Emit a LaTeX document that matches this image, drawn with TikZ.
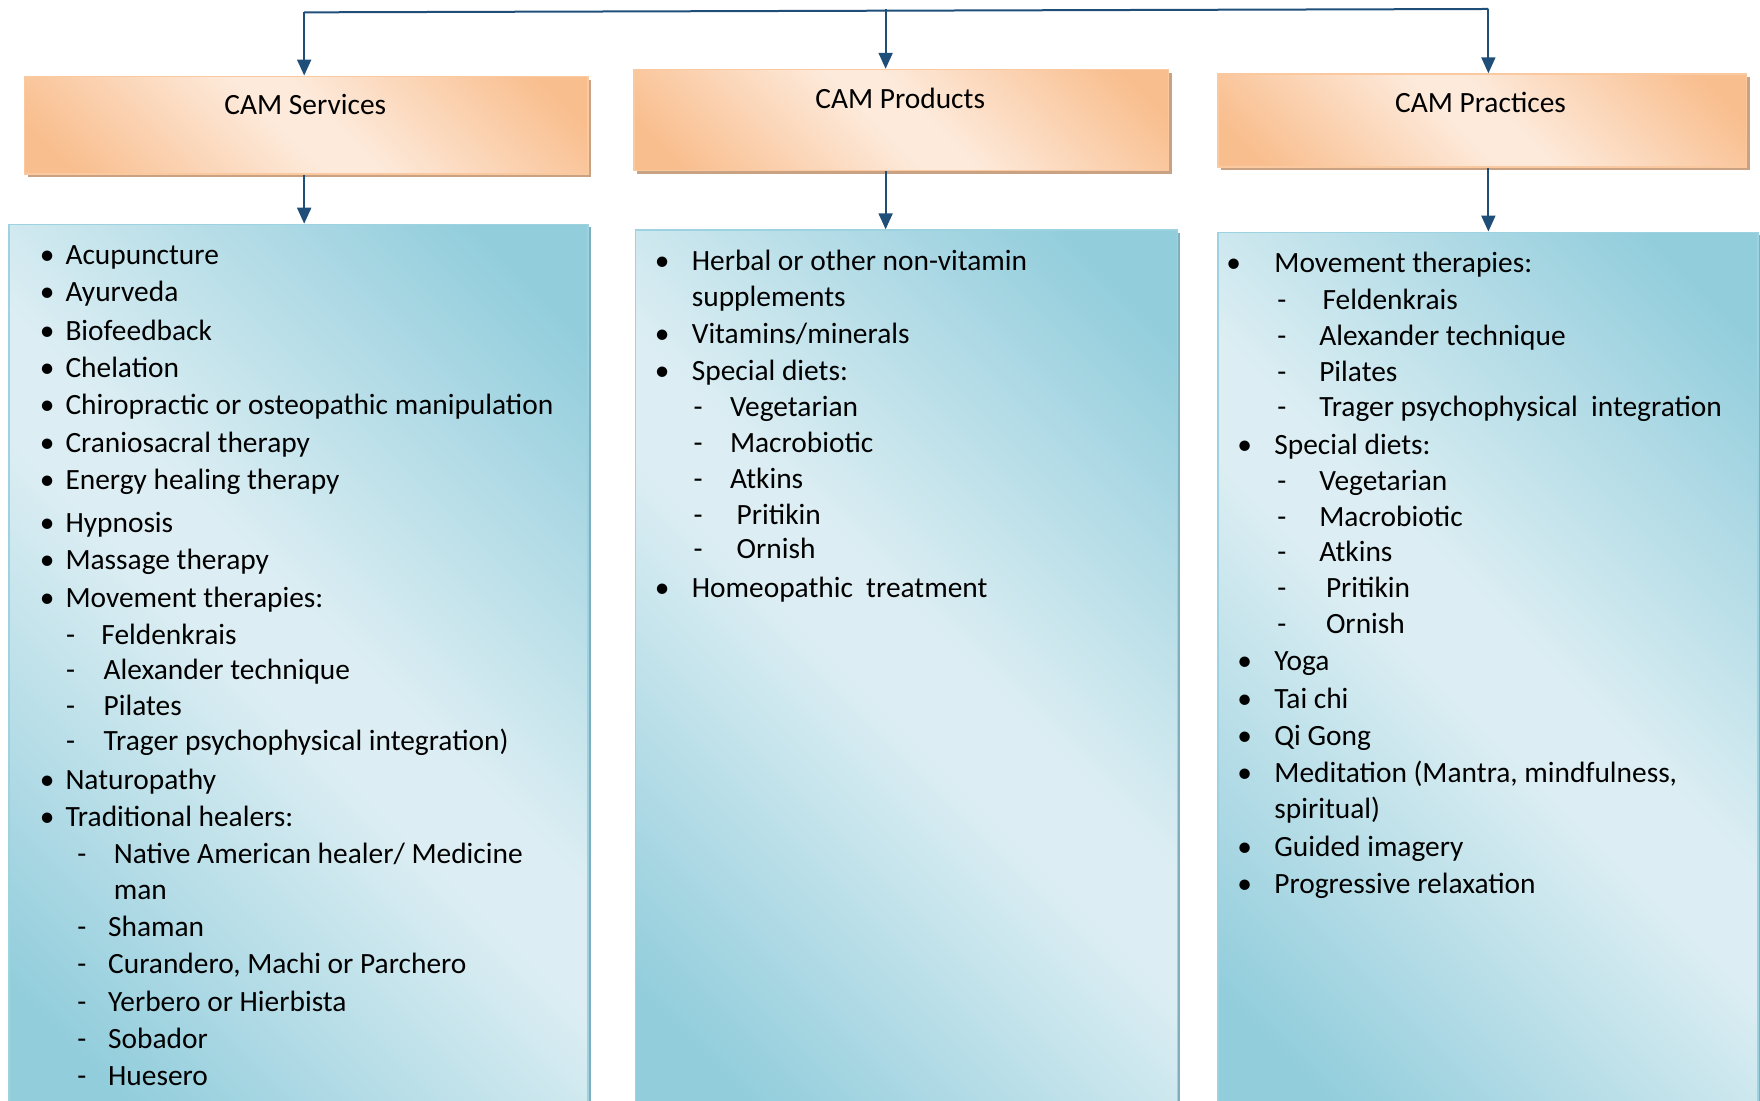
\documentclass[tikz,border=0pt]{standalone}
\usepackage{fontspec}
\setmainfont{Carlito}
\usetikzlibrary{arrows.meta,fit,shadows}
\definecolor{odk}{HTML}{F9BE8E}
\definecolor{olt}{HTML}{FDEADB}
\definecolor{obd}{HTML}{FAC9A0}
\definecolor{osh}{HTML}{C8A282}
\definecolor{bdk}{HTML}{92CDDC}
\definecolor{blt}{HTML}{DCEEF3}
\definecolor{bbd}{HTML}{9DD2E0}
\definecolor{bsh}{HTML}{7FAFBE}
\definecolor{arrc}{HTML}{1F4E79}
\pgfdeclarehorizontalshading{oband}{100bp}{color(0bp)=(odk); color(20bp)=(odk); color(47bp)=(olt); color(53bp)=(olt); color(80bp)=(odk); color(100bp)=(odk)}
\pgfdeclarehorizontalshading{bband}{100bp}{color(0bp)=(bdk); color(20bp)=(bdk); color(47bp)=(blt); color(53bp)=(blt); color(80bp)=(bdk); color(100bp)=(bdk)}
\newcommand\mkb[3]{\node[mk] (#1) at (#2,#3) {\textbullet};}
\newcommand\mkd[3]{\node[mk] (#1) at (#2,#3) {-};}
\newcommand\itx[4]{\node[tx] (#1) at (#2,#3) {#4};}
\begin{document}
\begin{tikzpicture}[x=0.56122pt,y=-0.56122pt,
  hbox/.style={draw=obd, line width=0.8pt, shading=oband, shading angle=45, inner sep=0pt,
     drop shadow={shadow xshift=1.6pt, shadow yshift=-1.6pt, fill=osh, opacity=1}},
  lbox/.style={draw=bbd, line width=0.8pt, shading=bband, shading angle=45, inner sep=0pt,
     drop shadow={shadow xshift=1.2pt, shadow yshift=-1.2pt, fill=bsh, opacity=1}},
  ln/.style={draw=arrc, line width=1pt},
  arr/.style={ln, -{Triangle[width=7pt,length=8pt]}},
  fnt/.style={font=\fontsize{14.7pt}{17pt}\selectfont, text=black},
  mk/.style={fnt, anchor=base, inner sep=0pt},
  tx/.style={fnt, anchor=base west, inner sep=0pt},
  ht/.style={fnt, anchor=base, inner sep=0pt}]
\useasboundingbox (0,0) rectangle (1568,980);

% header boxes
\node[hbox, fit={(22,68) (524,155)}] (h1) {};
\node[hbox, fit={(565,62) (1041,152)}] (h2) {};
\node[hbox, fit={(1085,66) (1556,149)}] (h3) {};
\node[ht] (h1t) at (272,102) {CAM Services};
\node[ht] (h2t) at (802,97) {CAM Products};
\node[ht] (h3t) at (1319,100) {CAM Practices};

% list boxes
\node[lbox, fit={(8,200) (524,982)}] (b1) {};
\node[lbox, fit={(566,205) (1049,982)}] (b2) {};
\node[lbox, fit={(1085,207) (1566,982)}] (b3) {};

% connectors
\coordinate (tl) at (271,11);
\coordinate (tr) at (1326,8);
\coordinate (tm) at (789,8);
\draw[ln] (tl) -- (tr);
\draw[arr] (tl) -- (tl |- h1.north);
\draw[arr] (tm) -- (tm |- h2.north);
\draw[arr] (tr) -- (tr |- h3.north);
\draw[arr] (h1.south -| tl) -- (b1.north -| tl);
\draw[arr] (h2.south -| tm) -- (b2.north -| tm);
\draw[arr] (h3.south -| tr) -- (b3.north -| tr);

% list 1
\mkb{a1m}{42}{236}\itx{a1}{58}{236}{Acupuncture}
\mkb{a2m}{42}{269}\itx{a2}{58}{269}{Ayurveda}
\mkb{a3m}{42}{303}\itx{a3}{58}{303}{Biofeedback}
\mkb{a4m}{42}{336}\itx{a4}{58}{336}{Chelation}
\mkb{a5m}{42}{369}\itx{a5}{58}{369}{Chiropractic or osteopathic manipulation}
\mkb{a6m}{42}{403}\itx{a6}{58}{403}{Craniosacral therapy}
\mkb{a7m}{42}{436}\itx{a7}{58}{436}{Energy healing therapy}
\mkb{a8m}{42}{474}\itx{a8}{58}{474}{Hypnosis}
\mkb{a9m}{42}{507}\itx{a9}{58}{507}{Massage therapy}
\mkb{a10m}{42}{541}\itx{a10}{58}{541}{Movement therapies:}
\mkd{a11m}{63}{574}\itx{a11}{90}{574}{Feldenkrais}
\mkd{a12m}{63}{605}\itx{a12}{92}{605}{Alexander technique}
\mkd{a13m}{63}{637}\itx{a13}{92}{637}{Pilates}
\mkd{a14m}{63}{669}\itx{a14}{92}{669}{Trager psychophysical integration)}
\mkb{a15m}{42}{703}\itx{a15}{58}{703}{Naturopathy}
\mkb{a16m}{42}{736}\itx{a16}{58}{736}{Traditional healers:}
\mkd{a17m}{73}{769}\itx{a17}{101}{769}{Native American healer/ Medicine}
\itx{a18}{101}{801}{man}
\mkd{a19m}{73}{834}\itx{a19}{96}{834}{Shaman}
\mkd{a20m}{73}{867}\itx{a20}{96}{867}{Curandero, Machi or Parchero}
\mkd{a21m}{73}{901}\itx{a21}{96}{901}{Yerbero or Hierbista}
\mkd{a22m}{73}{934}\itx{a22}{96}{934}{Sobador}
\mkd{a23m}{73}{967}\itx{a23}{96}{967}{Huesero}

% list 2
\mkb{p1m}{590}{241}\itx{p1}{616}{241}{Herbal or other non-vitamin}
\itx{p2}{616}{273}{supplements}
\mkb{p3m}{590}{306}\itx{p3}{616}{306}{Vitamins/minerals}
\mkb{p4m}{590}{339}\itx{p4}{616}{339}{Special diets:}
\mkd{p5m}{622}{371}\itx{p5}{650}{371}{Vegetarian}
\mkd{p6m}{622}{403}\itx{p6}{650}{403}{Macrobiotic}
\mkd{p7m}{622}{435}\itx{p7}{650}{435}{Atkins}
\mkd{p8m}{622}{467}\itx{p8}{656}{467}{Pritikin}
\mkd{p9m}{622}{498}\itx{p9}{656}{498}{Ornish}
\mkb{p10m}{590}{532}\itx{p10}{616}{532}{Homeopathic\ \ treatment}

% list 3
\mkb{c1m}{1099}{243}\itx{c1}{1135}{243}{Movement therapies:}
\mkd{c2m}{1142}{276}\itx{c2}{1178}{276}{Feldenkrais}
\mkd{c3m}{1142}{308}\itx{c3}{1175}{308}{Alexander technique}
\mkd{c4m}{1142}{340}\itx{c4}{1175}{340}{Pilates}
\mkd{c5m}{1142}{371}\itx{c5}{1175}{371}{Trager psychophysical\ \ integration}
\mkb{c6m}{1109}{405}\itx{c6}{1135}{405}{Special diets:}
\mkd{c7m}{1142}{437}\itx{c7}{1175}{437}{Vegetarian}
\mkd{c8m}{1142}{469}\itx{c8}{1175}{469}{Macrobiotic}
\mkd{c9m}{1142}{500}\itx{c9}{1175}{500}{Atkins}
\mkd{c10m}{1142}{532}\itx{c10}{1181}{532}{Pritikin}
\mkd{c11m}{1142}{564}\itx{c11}{1181}{564}{Ornish}
\mkb{c12m}{1109}{597}\itx{c12}{1135}{597}{Yoga}
\mkb{c13m}{1109}{631}\itx{c13}{1135}{631}{Tai chi}
\mkb{c14m}{1109}{664}\itx{c14}{1135}{664}{Qi Gong}
\mkb{c15m}{1109}{697}\itx{c15}{1135}{697}{Meditation (Mantra, mindfulness,}
\itx{c16}{1135}{729}{spiritual)}
\mkb{c17m}{1109}{763}\itx{c17}{1135}{763}{Guided imagery}
\mkb{c18m}{1109}{796}\itx{c18}{1135}{796}{Progressive relaxation}
\end{tikzpicture}
\end{document}
